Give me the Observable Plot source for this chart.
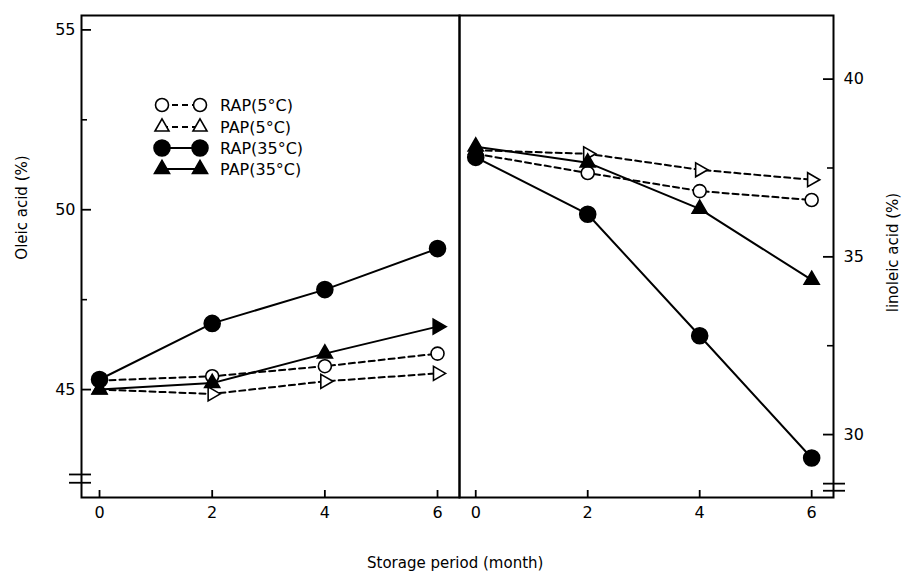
<!DOCTYPE html>
<html><head><meta charset="utf-8">
<script src="https://cdn.jsdelivr.net/npm/d3@7"></script>
<script src="https://cdn.jsdelivr.net/npm/@observablehq/plot@0.6"></script>
<style>
body{margin:0;background:#fff;}
#chart{position:relative;width:904px;height:575px;font-family:"DejaVu Sans",sans-serif;color:#000;overflow:hidden;}
#chart > svg{position:absolute;overflow:visible}
.lab{position:absolute;font-size:15px;white-space:nowrap;line-height:1;}
</style></head><body><div id="chart"></div>
<script>
// ---- data ----
const months = [0, 2, 4, 6];
const seriesNames = ["RAP(5°C)", "PAP(5°C)", "RAP(35°C)", "PAP(35°C)"];
const oleicRAP5  = [45.25, 45.37, 45.65, 46.0];
const oleicPAP5  = [45.0, 44.88, 45.23, 45.45];
const oleicRAP35 = [45.28, 46.84, 47.78, 48.92];
const oleicPAP35 = [45.0, 45.18, 46.0, 46.75];
const linoleicRAP5  = [37.9, 37.36, 36.85, 36.6];
const linoleicPAP5  = [38.0, 37.9, 37.45, 37.17];
const linoleicRAP35 = [37.8, 36.2, 32.78, 29.34];
const linoleicPAP35 = [38.1, 37.65, 36.35, 34.35];
const oleicTicks = [45, 50, 55];
const oleicMinorTicks = [47.5, 52.5];
const linoleicTicks = [30, 35, 40];
const linoleicMinorTicks = [32.5, 37.5];
const monthTicks = [0, 2, 4, 6];
const oleicBreaks = [42.64, 42.41];
const linoleicBreaks = [28.62, 28.42];
const xTitle = "Storage period (month)";
const oleicTitle = "Oleic acid (%)";
const linoleicTitle = "linoleic acid (%)";

// ---- styles ----
const styleOf = {
  "RAP(5°C)":  {dash: "6,4", symbol: "circle",   fill: "white", r: 6.5},
  "PAP(5°C)":  {dash: "6,4", symbol: "triangle", fill: "white", r: 5.2},
  "RAP(35°C)": {dash: null,  symbol: "circle",   fill: "black", r: 8},
  "PAP(35°C)": {dash: null,  symbol: "triangle", fill: "black", r: 5.6}
};
// marker orientation as drawn in the original (degrees)
const rotOleic = {"RAP(5°C)": [0,0,0,0], "PAP(5°C)": [0,90,90,90], "RAP(35°C)": [0,0,0,0], "PAP(35°C)": [0,0,0,90]};
const rotLinoleic = {"RAP(5°C)": [0,0,0,0], "PAP(5°C)": [0,90,90,90], "RAP(35°C)": [0,0,0,0], "PAP(35°C)": [0,0,0,0]};

function rows(valuesList, rot) {
  return seriesNames.map((s, k) => months.map((m, i) => ({series: s, month: m, value: valuesList[k][i], rot: rot[s][i]})));
}
const oleicRows = rows([oleicRAP5, oleicPAP5, oleicRAP35, oleicPAP35], rotOleic);
const linoleicRows = rows([linoleicRAP5, linoleicPAP5, linoleicRAP35, linoleicPAP35], rotLinoleic);

const FONT = '"DejaVu Sans", sans-serif';
const H = 530, MT = 15, MB = 33;

function seriesMarks(seriesRows) {
  const lines = [], dots = [];
  seriesRows.forEach(d => {
    const st = styleOf[d[0].series];
    lines.push(Plot.line(d, {x: "month", y: "value", stroke: "black", strokeWidth: 2, strokeDasharray: st.dash}));
  });
  seriesRows.forEach(d => {
    const st = styleOf[d[0].series];
    dots.push(Plot.dot(d, {x: "month", y: "value", symbol: () => st.symbol, r: st.r, fill: st.fill, stroke: "black", strokeWidth: 1.6, rotate: "rot"}));
  });
  return [...lines, ...dots];
}

function panel(seriesRows, o) {
  const innerW = o.width - o.ml - o.mr;
  const innerH = H - MT - MB;
  const L = o.side === "left";
  const yTick = (len) => L ? {insetRight: innerW - len} : {insetLeft: innerW - len};
  return Plot.plot({
    width: o.width, height: H, marginLeft: o.ml, marginRight: o.mr, marginTop: MT, marginBottom: MB,
    x: {domain: o.xDomain}, y: {domain: o.yDomain},
    style: {fontFamily: FONT, fontSize: "16px", color: "black", background: "transparent", overflow: "visible"},
    marks: [
      Plot.axisX(monthTicks, {tickSize: 0, tickPadding: 9, label: null, fontSize: 16}),
      Plot.ruleX(monthTicks, {stroke: "black", strokeWidth: 1.8, insetTop: innerH - 7}),
      Plot.axisY(o.ticks, {anchor: o.side, tickSize: 0, tickPadding: L ? 6 : 10, label: null, fontSize: 16}),
      Plot.ruleY(o.ticks, {stroke: "black", strokeWidth: 1.8, ...yTick(10)}),
      Plot.ruleY(o.minor, {stroke: "black", strokeWidth: 1.6, ...yTick(6)}),
      Plot.ruleY(o.breaks, L
        ? {stroke: "black", strokeWidth: 1.8, insetLeft: -12, insetRight: innerW - 10}
        : {stroke: "black", strokeWidth: 1.8, insetLeft: innerW - 10, insetRight: -12}),
      ...seriesMarks(seriesRows),
      Plot.frame({stroke: "black", strokeWidth: 2})
    ]
  });
}

const chart = document.getElementById("chart");
const left = panel(oleicRows, {width: 460, ml: 81, mr: 1, xDomain: [-0.32, 6.39], yDomain: [42.0, 55.4],
  ticks: oleicTicks, minor: oleicMinorTicks, breaks: oleicBreaks, side: "left"});
left.style.left = "0px"; left.style.top = "0px";
chart.appendChild(left);
const right = panel(linoleicRows, {width: 445, ml: 0, mr: 71, xDomain: [-0.29, 6.39], yDomain: [28.23, 41.79],
  ticks: linoleicTicks, minor: linoleicMinorTicks, breaks: linoleicBreaks, side: "right"});
right.style.left = "459px"; right.style.top = "0px";
chart.appendChild(right);

// legend (inside left panel)
const leg = d3.select(chart).append("svg").attr("width", 904).attr("height", 575).style("left", "0px").style("top", "0px");
const legY = [105, 127, 148, 169];
seriesNames.forEach((s, i) => {
  const st = styleOf[s];
  const g = leg.append("g");
  g.append("line").attr("x1", 162).attr("x2", 200).attr("y1", legY[i]).attr("y2", legY[i])
    .attr("stroke", "black").attr("stroke-width", 2).attr("stroke-dasharray", st.dash);
  const sym = d3.symbol(st.symbol === "circle" ? d3.symbolCircle : d3.symbolTriangle, Math.PI * st.r * st.r);
  [162, 200].forEach(x => g.append("path").attr("d", sym()).attr("transform", `translate(${x},${legY[i]})`)
    .attr("fill", st.fill).attr("stroke", "black").attr("stroke-width", 1.6));
  g.append("text").attr("x", 220).attr("y", legY[i]).attr("dy", "0.36em").attr("font-family", FONT)
    .attr("font-size", 16).text(s);
});

function label(text, x, y, rot) {
  const d = document.createElement("div");
  d.className = "lab"; d.textContent = text;
  chart.appendChild(d);
  const w = d.offsetWidth, h = d.offsetHeight;
  d.style.left = (x - w / 2) + "px"; d.style.top = (y - h / 2) + "px";
  if (rot) d.style.transform = `rotate(${rot}deg)`;
}
label(xTitle, 455, 563, 0);
label(oleicTitle, 22, 207, -90);
label(linoleicTitle, 893, 252, -90);
</script></body></html>
